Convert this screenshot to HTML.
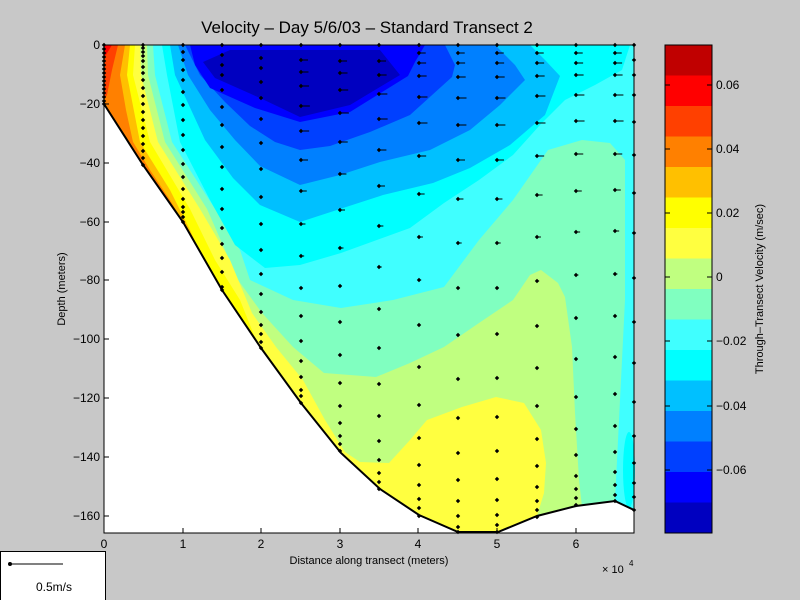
<!DOCTYPE html>
<html><head><meta charset="utf-8"><style>
html,body{margin:0;padding:0;background:#c8c8c8;}
svg{display:block;font-family:"Liberation Sans",sans-serif;}
</style></head><body>
<svg id="s" width="800" height="600" viewBox="0 0 800 600" xmlns="http://www.w3.org/2000/svg">
<rect width="800" height="600" fill="#c8c8c8"/>
<rect x="104" y="45" width="530" height="488" fill="#fff"/>
<polygon fill="#40ffff" points="104,45 634,45 634,510 615,501 576,506 537,516 498,532 458,532 419,515 380,489 341,453 301,403 261,348 222,290 183,222 143,165 104,104"/>
<polygon fill="#80ffc0" points="153,45 155,75 172,142 215,209 240,250 250,280 293,300 341,308 393,300 444,287 479,240 513,200 548,150 582,140 610,143 625,160 625,300 620,400 615,501 576,506 537,516 498,532 458,532 419,515 380,489 341,453 301,403 261,348 222,290 183,222 143,165 104,104 104,45"/>
<polygon fill="#c0ff80" points="147,45 148,75 165,142 207,209 225,250 238,280 262,313 293,347 324,373 376,377 410,363 444,347 479,323 513,300 530,275 541,270 558,283 565,297 572,347 575,413 579,480 582,507 576,506 537,516 498,532 458,532 419,515 380,489 341,453 301,403 261,348 222,290 183,222 143,165 104,104 104,45"/>
<polygon fill="#ffff40" points="140,45 141,75 158,142 200,209 230,260 252,313 276,347 303,380 325,420 345,452 360,462 389,463 410,440 427,420 462,407 496,397 524,403 541,430 546,463 544,493 537,516 498,532 458,532 419,515 380,489 341,453 301,403 261,348 222,290 183,222 143,165 104,104 104,45"/>
<polygon fill="#ffff00" points="135,45 133,75 150,142 190,209 215,260 240,300 258,345 222,290 183,222 143,165 104,104 104,45"/>
<polygon fill="#ffc000" points="130,45 127,75 140,142 170,190 190,230 210,275 222,290 183,222 143,165 104,104 104,45"/>
<polygon fill="#ff8000" points="125,45 120,75 126,110 133,142 150,170 170,200 183,222 143,165 104,104 104,45"/>
<polygon fill="#ff4000" points="118,45 112,70 107,95 104,100 104,45"/>
<polygon fill="#ff0000" points="104,45 112,45 104,58"/>
<polygon fill="#00ffff" points="162,45 630,45 622,70 595,85 565,100 540,125 513,155 479,180 444,203 410,228 341,253 300,265 265,268 235,245 210,200 180,142 167,75"/>
<ellipse cx="629" cy="470" rx="6" ry="38" fill="#00ffff"/>
<polygon fill="#00c0ff" points="170,45 530,45 545,60 560,76 545,115 510,145 470,168 433,183 383,195 343,208 300,222 260,205 233,178 205,140 175,75"/>
<polygon fill="#0080ff" points="178,45 495,45 515,65 525,80 500,105 470,130 430,150 380,162 340,175 300,185 260,166 235,140 210,110 188,75"/>
<polygon fill="#0040ff" points="185,45 445,45 455,65 452,77 410,115 370,132 330,146 300,150 275,142 250,126 225,102 200,75"/>
<polygon fill="#0000ff" points="190,45 425,45 415,62 408,76 350,112 300,122 255,108 210,88 195,65"/>
<polygon fill="#0000c0" points="203,62 230,50 380,50 400,75 350,105 300,117 260,98 215,78"/>
<polygon fill="#fff" points="104,104 143,165 183,222 222,290 261,348 301,403 341,453 380,489 419,515 458,532 498,532 537,516 576,506 615,501 634,510 634,533 104,533"/>
<polyline fill="none" stroke="#000" stroke-width="2" points="104,104 143,165 183,222 222,290 261,348 301,403 341,453 380,489 419,515 458,532 498,532 537,516 576,506 615,501 634,510"/>
<g id="dots" fill="#000" stroke="#000" stroke-width="1"></g>
<rect x="104" y="45" width="530" height="488" fill="none" stroke="#000" stroke-width="1"/>
<g stroke="#000" stroke-width="1">
<line x1="104" y1="104" x2="109" y2="104"/><line x1="104" y1="163" x2="109" y2="163"/><line x1="104" y1="222" x2="109" y2="222"/><line x1="104" y1="280" x2="109" y2="280"/><line x1="104" y1="339" x2="109" y2="339"/><line x1="104" y1="398" x2="109" y2="398"/><line x1="104" y1="457" x2="109" y2="457"/><line x1="104" y1="516" x2="109" y2="516"/>
<line x1="183" y1="533" x2="183" y2="528"/><line x1="261" y1="533" x2="261" y2="528"/><line x1="340" y1="533" x2="340" y2="528"/><line x1="418" y1="533" x2="418" y2="528"/><line x1="497" y1="533" x2="497" y2="528"/><line x1="576" y1="533" x2="576" y2="528"/>
</g>
<g font-size="12" fill="#000" text-anchor="end">
<text x="100" y="49">0</text><text x="100" y="108">−20</text><text x="100" y="167">−40</text><text x="100" y="226">−60</text><text x="100" y="284">−80</text><text x="100" y="343">−100</text><text x="100" y="402">−120</text><text x="100" y="461">−140</text><text x="100" y="520">−160</text>
</g>
<g font-size="12" fill="#000" text-anchor="middle">
<text x="104" y="548">0</text><text x="183" y="548">1</text><text x="261" y="548">2</text><text x="340" y="548">3</text><text x="418" y="548">4</text><text x="497" y="548">5</text><text x="576" y="548">6</text>
<text x="369" y="564" font-size="11">Distance along transect (meters)</text>
<text x="367" y="33" font-size="17">Velocity – Day 5/6/03 – Standard Transect 2</text>
</g>
<text x="602" y="573" font-size="11">× 10</text><text x="629" y="566" font-size="8">4</text>
<text transform="translate(65,289) rotate(-90)" font-size="11" text-anchor="middle">Depth (meters)</text>
<g>
<rect x="665" y="45" width="47" height="31" fill="#c00000"/>
<rect x="665" y="75.5" width="47" height="31" fill="#ff0000"/>
<rect x="665" y="106" width="47" height="31" fill="#ff4000"/>
<rect x="665" y="136.5" width="47" height="31" fill="#ff8000"/>
<rect x="665" y="167" width="47" height="31" fill="#ffc000"/>
<rect x="665" y="197.5" width="47" height="31" fill="#ffff00"/>
<rect x="665" y="228" width="47" height="31" fill="#ffff40"/>
<rect x="665" y="258.5" width="47" height="31" fill="#c0ff80"/>
<rect x="665" y="289" width="47" height="31" fill="#80ffc0"/>
<rect x="665" y="319.5" width="47" height="31" fill="#40ffff"/>
<rect x="665" y="350" width="47" height="31" fill="#00ffff"/>
<rect x="665" y="380.5" width="47" height="31" fill="#00c0ff"/>
<rect x="665" y="411" width="47" height="31" fill="#0080ff"/>
<rect x="665" y="441.5" width="47" height="31" fill="#0040ff"/>
<rect x="665" y="472" width="47" height="31" fill="#0000ff"/>
<rect x="665" y="502.5" width="47" height="30.5" fill="#0000c0"/>
<rect x="665" y="45" width="47" height="488" fill="none" stroke="#000"/>
<g stroke="#000"><line x1="665" y1="85" x2="670" y2="85"/><line x1="707" y1="85" x2="712" y2="85"/><line x1="665" y1="149" x2="670" y2="149"/><line x1="707" y1="149" x2="712" y2="149"/><line x1="665" y1="213" x2="670" y2="213"/><line x1="707" y1="213" x2="712" y2="213"/><line x1="665" y1="277" x2="670" y2="277"/><line x1="707" y1="277" x2="712" y2="277"/><line x1="665" y1="341" x2="670" y2="341"/><line x1="707" y1="341" x2="712" y2="341"/><line x1="665" y1="406" x2="670" y2="406"/><line x1="707" y1="406" x2="712" y2="406"/><line x1="665" y1="470" x2="670" y2="470"/><line x1="707" y1="470" x2="712" y2="470"/></g>
<g font-size="12"><text x="716" y="89">0.06</text><text x="716" y="153">0.04</text><text x="716" y="217">0.02</text><text x="716" y="281">0</text><text x="716" y="345">−0.02</text><text x="716" y="410">−0.04</text><text x="716" y="474">−0.06</text></g>
<text transform="translate(763,289) rotate(-90)" font-size="11" text-anchor="middle">Through–Transect Velocity (m/sec)</text>
</g>
<rect x="0.5" y="551.5" width="105" height="52" fill="#fff" stroke="#000"/>
<line x1="10" y1="564" x2="63" y2="564" stroke="#000"/>
<circle cx="10" cy="564" r="2" fill="#000"/>
<text x="36" y="591" font-size="12">0.5m/s</text>
</svg>
<script>
var cols={
104:[45,49,53,57,61,65,69,73,77,81,85,89,93,97,101,104],
143:[45,48,52,56,61,67,73,80,88,96,104,112,120,128,136,144,151,158,165],
183:[45,52,60,70,80,92,105,120,135,150,164,177,189,199,207,212,217,222],
222:[45,55,65,75,90,107,125,147,167,189,209,228,244,258,272,287,290],
261:[45,58,68,82,98,119,143,169,197,224,250,274,294,312,325,334,342,348],
301:[45,60,72,86,106,131,160,191,224,256,288,316,341,361,377,390,396,403],
340:[45,61,73,90,113,142,174,210,248,286,322,355,383,406,423,436,444,451],
379:[45,61,75,94,119,150,186,226,267,309,348,384,416,441,460,473,482,489],
419:[45,53,63,76,97,123,156,194,237,280,325,367,405,438,465,485,499,508,516],
458:[45,53,63,77,98,125,160,199,243,288,335,379,418,453,480,501,516,527,532],
497:[45,53,63,77,98,125,160,199,243,288,334,378,417,451,479,500,515,525,532],
537:[45,53,63,76,96,123,156,195,237,281,326,368,406,439,466,487,501,510,517],
576:[45,53,63,75,95,121,154,191,232,275,318,359,397,429,455,476,489,498,505],
615:[45,53,63,75,95,121,154,190,231,274,316,357,394,426,452,472,485,495,501],
634:[45,60,75,95,122,155,193,233,278,322,363,402,436,463,483,497,510]};
var g=document.getElementById('dots'),h='';
for(var k in cols){var x=+k;cols[k].forEach(function(y){
h+='<path d="M'+(x-2.2)+' '+y+'L'+x+' '+(y-2.2)+'L'+(x+2.2)+' '+y+'L'+x+' '+(y+2.2)+'Z" stroke="none"/>';
if(x>=301&&x<634&&y>50&&y<300){var L=Math.max(2,9-Math.abs(y-110)/25);h+='<line x1="'+x+'" y1="'+y+'" x2="'+(x+L)+'" y2="'+y+'"/>';}
});}
g.innerHTML=h;
</script>
</body></html>
